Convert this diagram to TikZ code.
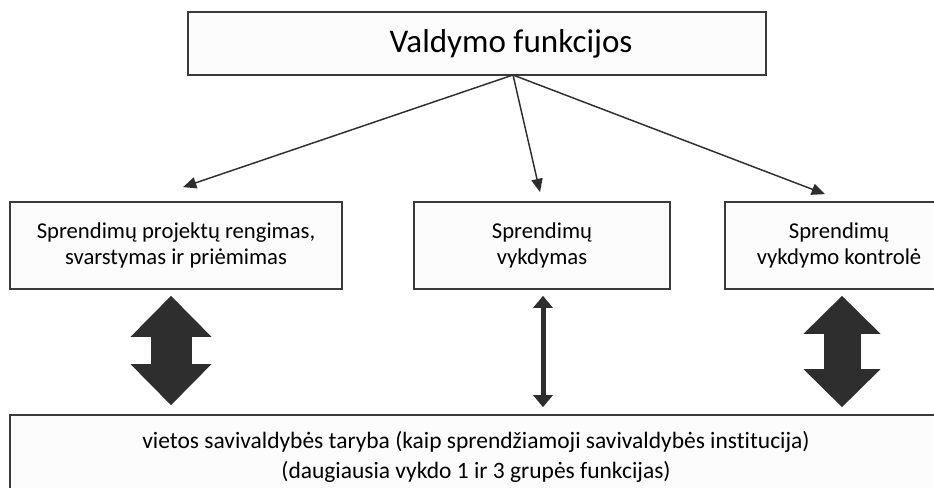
\documentclass[tikz,border=0pt]{standalone}
\usepackage{fontspec}
\setmainfont{Carlito}[Ligatures={NoCommon}]
\usetikzlibrary{arrows.meta,positioning}
\definecolor{funcdark}{HTML}{2E2E2E}
\definecolor{funcline}{HTML}{3A3A3A}
\definecolor{funcfill}{HTML}{FCFCFC}
\tikzset{%
  funcbox/.style={%
    draw=funcline,
    line width=1.3pt,
    fill=funcfill,
    inner sep=0pt,
    minimum height=65.25pt,
    align=center,
    font=\fontsize{17}{19.5}\selectfont
  },
  functitle/.style={%
    funcbox,
    minimum width=433.5pt,
    minimum height=47.25pt,
    font=\fontsize{24.8}{28}\selectfont
  },
  funcbase/.style={%
    funcbox,
    minimum width=699pt,
    minimum height=63pt,
    font=\fontsize{17.6}{22.5}\selectfont
  },
  funcarrow/.style={-{Triangle[length=10pt,width=8.5pt]},line width=1.1pt,draw=funcdark},
  thinlink/.style={{Triangle[length=9pt,width=15pt,line width=0pt 0]}-{Triangle[length=9pt,width=15pt,line width=0pt 0]},line width=3.75pt,draw=funcdark},
  biglink/.style={{Triangle[length=30.75pt,width=60.75pt,line width=0pt 0]}-{Triangle[length=30.75pt,width=60.75pt,line width=0pt 0]},line width=30.75pt,draw=funcdark}
}
\begin{document}
\begin{tikzpicture}[x=0.75pt,y=-0.75pt]
    \useasboundingbox (0,0) rectangle (934,488);
    \clip (0,0) rectangle (934,488);
    \node[functitle] (title) at (477,43.5) {\hspace*{51pt}Valdymo funkcijos};
    \node[funcbox,minimum width=249pt] (plan) at (176,245.5) {Sprendimų projektų rengimas,\\svarstymas ir priėmimas};
    \node[funcbox,minimum width=192pt] (exec) at (542,245.5) {Sprendimų\\vykdymas};
    \node[funcbox,minimum width=171pt] (control) at (839,245.5) {Sprendimų\\vykdymo kontrolė};
    \node[funcbase] (council) at (476,457) {vietos savivaldybės taryba (kaip sprendžiamoji savivaldybės institucija)\\(daugiausia vykdo 1 ir 3 grupės funkcijas)};

    \coordinate (fork) at (513,75);
    \draw[funcarrow] (fork) -- ([xshift=5.25pt,yshift=10.5pt]plan.north);
    \draw[funcarrow] (fork) -- ([xshift=-1.5pt,yshift=6.75pt]exec.north);
    \draw[funcarrow] (fork) -- ([xshift=-10.5pt,yshift=5.25pt]control.north);

    \draw[biglink] ([xshift=-3.75pt,yshift=-4.5pt]plan.south) -- ([xshift=-3.75pt,yshift=6.75pt]plan.south |- council.north);
    \draw[thinlink] ([xshift=0.75pt,yshift=-4.5pt]exec.south) -- ([xshift=0.75pt,yshift=5.25pt]exec.south |- council.north);
    \draw[biglink,line width=27.75pt,{Triangle[length=28.5pt,width=57.75pt,line width=0pt 0]}-{Triangle[length=28.5pt,width=57.75pt,line width=0pt 0]}]
      ([xshift=2.25pt,yshift=-4.5pt]control.south) -- ([xshift=2.25pt,yshift=5.25pt]control.south |- council.north);
  \end{tikzpicture}
\end{document}
